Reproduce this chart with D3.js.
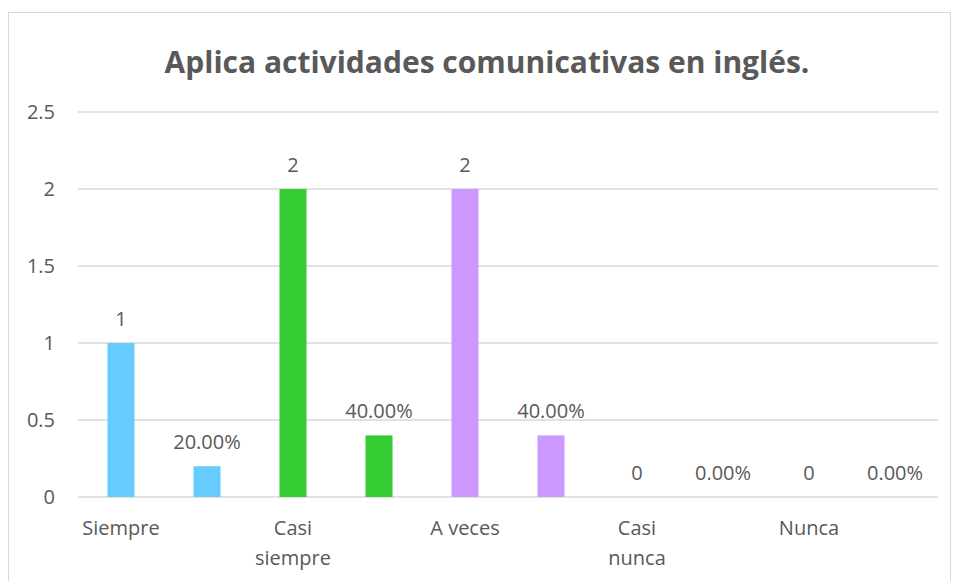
<!DOCTYPE html>
<html>
<head>
<meta charset="utf-8">
<script src="https://cdn.jsdelivr.net/npm/d3@7"></script>
<style>
  body { margin: 0; background: #fff; }
  text { font-family: "Open Sans", "Noto Sans", sans-serif; fill: #595959; }
</style>
</head>
<body>
<script>
// one slot per bar: count, then share, for each answer
let categories = ["Siempre", "", "Casi siempre", "", "A veces", "", "Casi nunca", "", "Nunca", ""];
let values = [1, 0.2, 2, 0.4, 2, 0.4, 0, 0, 0, 0];
let valueLabels = ["1", "20.00%", "2", "40.00%", "2", "40.00%", "0", "0.00%", "0", "0.00%"];
let yTicks = [0, 0.5, 1, 1.5, 2, 2.5];
let colors = ["#66CCFF", "#66CCFF", "#33CC33", "#33CC33", "#CC99FF", "#CC99FF", "#999", "#999", "#999", "#999"];

let width = 955, height = 581;
let svg = d3.select("body").append("svg")
    .attr("width", width)
    .attr("height", height);

// chart area frame
svg.append("rect")
    .attr("x", 8.5).attr("y", 12.5)
    .attr("width", 942).attr("height", 600)
    .attr("fill", "#fff")
    .attr("stroke", "#d9d9d9");

svg.append("text")
    .attr("x", 487).attr("y", 73)
    .attr("text-anchor", "middle")
    .style("font-size", "30px")
    .style("font-weight", "bold")
    .text("Aplica actividades comunicativas en inglés.");

let x = d3.scaleBand()
    .domain(d3.range(categories.length))
    .range([78, 938])
    .paddingInner(0.686)
    .paddingOuter(0.343);

let y = d3.scaleLinear()
    .domain([0, 2.5])
    .range([497, 112]);

// gridlines
svg.append("g")
    .selectAll("line")
    .data(yTicks)
    .enter()
    .append("line")
    .attr("x1", 78).attr("x2", 938)
    .attr("y1", d => y(d)).attr("y2", d => y(d))
    .attr("stroke", "#d9d9d9")
    .attr("stroke-width", 1.3);

let yAxis = d3.axisLeft(y)
    .tickValues(yTicks)
    .tickSize(0)
    .tickPadding(23)
    .tickFormat(d3.format("~g"));

svg.append("g")
    .attr("transform", "translate(78,0)")
    .call(yAxis)
    .call(g => g.select(".domain").remove())
    .selectAll("text")
    .style("font-size", "20px")
    .style("fill", "#595959")
    .style("font-family", "'Open Sans', sans-serif");

svg.selectAll(".bar")
    .data(values)
    .enter()
    .append("rect")
    .attr("class", "bar")
    .attr("x", (d, i) => x(i))
    .attr("y", d => y(d))
    .attr("width", x.bandwidth())
    .attr("height", d => y(0) - y(d))
    .attr("fill", (d, i) => colors[i]);

svg.selectAll(".lbl")
    .data(values)
    .enter()
    .append("text")
    .attr("class", "lbl")
    .attr("x", (d, i) => x(i) + x.bandwidth() / 2)
    .attr("y", d => y(d) - 17)
    .attr("text-anchor", "middle")
    .style("font-size", "20px")
    .text((d, i) => valueLabels[i]);

// category labels, wrapped on spaces when wider than the slot
let cats = svg.append("g").selectAll("text")
    .data(categories)
    .enter()
    .append("text")
    .attr("text-anchor", "middle")
    .style("font-size", "20px");

cats.each(function (d, i) {
    let el = d3.select(this);
    let cx = x(i) + x.bandwidth() / 2;
    el.append("tspan").attr("x", cx).attr("y", 535).text(d);
    if (this.getComputedTextLength() > x.step()) {
        el.selectAll("tspan").remove();
        d.split(" ").forEach(function (w, k) {
            el.append("tspan")
                .attr("x", cx)
                .attr("y", 535 + k * 30)
                .text(w);
        });
    }
});
</script>
</body>
</html>
